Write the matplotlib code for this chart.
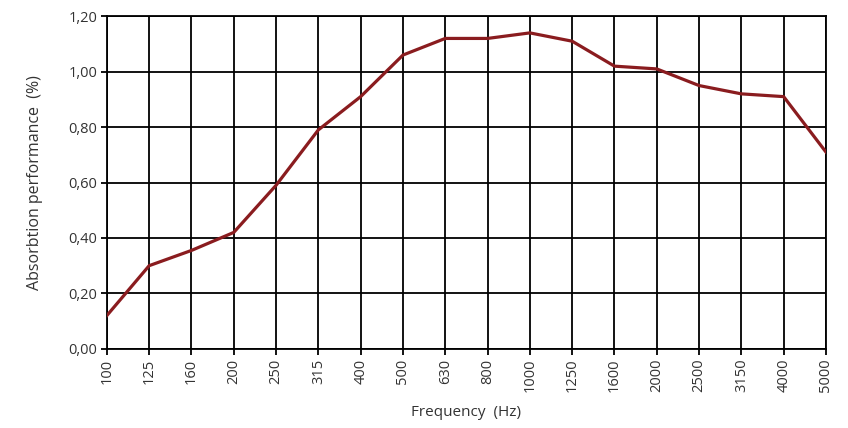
import numpy as np
import matplotlib
matplotlib.use("Agg")
from matplotlib import pyplot as plt

frequencies = ['100', '125', '160', '200', '250', '315', '400', '500', '630', '800',
               '1000', '1250', '1600', '2000', '2500', '3150', '4000', '5000']
absorption = [0.12, 0.30, 0.355, 0.42, 0.59, 0.79, 0.91, 1.06, 1.12, 1.12,
              1.14, 1.11, 1.02, 1.01, 0.95, 0.92, 0.91, 0.71]
y_ticks = [0.0, 0.2, 0.4, 0.6, 0.8, 1.0, 1.2]

plt.rcParams['font.family'] = ['Open Sans', 'DejaVu Sans']

fig = plt.figure(figsize=(8.48, 4.28), dpi=100)
ax = fig.add_axes([0.126, 0.185, 0.848, 0.777])

x = np.arange(len(frequencies))
ax.plot(x, absorption, color='#8a1c1f', linewidth=2.3, solid_joinstyle='round', zorder=3)

ax.set_xlim(0, len(frequencies) - 1)
ax.set_ylim(0, 1.2)
ax.set_xticks(x)
ax.set_xticklabels(frequencies, rotation=90, fontsize=10.5, color='#333333')
ax.set_yticks(y_ticks)
ax.set_yticklabels([f'{v:.2f}'.replace('.', ',') for v in y_ticks], fontsize=10.5, color='#333333')

ax.grid(True, color='black', linewidth=1.3)
ax.set_axisbelow(True)
for s in ax.spines.values():
    s.set_color('black')
    s.set_linewidth(1.3)
ax.tick_params(axis='both', length=4, width=1.3, color='black', pad=3)

ax.set_xlabel('Frequency  (Hz)', fontsize=11, color='#333333', labelpad=9)
ax.set_ylabel('Absorbtion performance  (%)', fontsize=11.5, color='#333333', labelpad=18)

fig.savefig('out.png', dpi=100)
